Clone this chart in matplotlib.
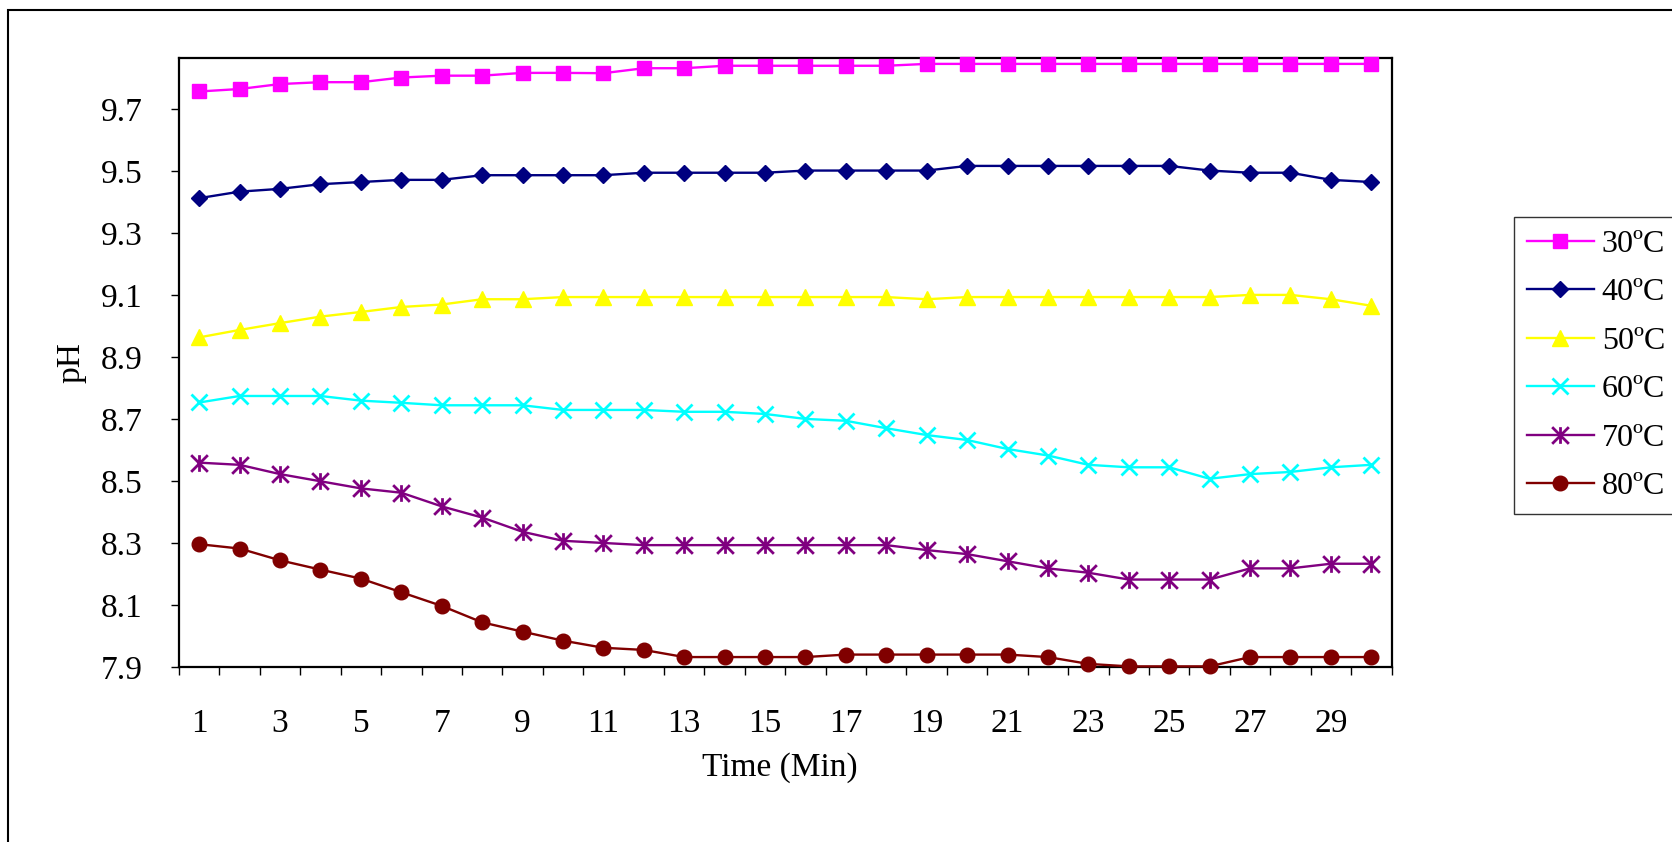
import matplotlib
matplotlib.use("Agg")
import matplotlib.pyplot as plt
from matplotlib.path import Path
from matplotlib.patches import Rectangle

plt.rcParams['font.family'] = ['Liberation Serif', 'DejaVu Serif']

# Time axis (minutes) and pH readings at each temperature
time_min = list(range(1, 31))

ph_30 = [9.757, 9.765, 9.781, 9.787, 9.787, 9.802, 9.808, 9.808, 9.817, 9.817,
         9.816, 9.832, 9.832, 9.840, 9.840, 9.840, 9.840, 9.840, 9.846, 9.846,
         9.846, 9.846, 9.846, 9.846, 9.846, 9.846, 9.846, 9.846, 9.846, 9.846]
ph_40 = [9.413, 9.434, 9.443, 9.458, 9.465, 9.472, 9.472, 9.487, 9.487, 9.487,
         9.487, 9.495, 9.495, 9.495, 9.495, 9.502, 9.502, 9.502, 9.502, 9.517,
         9.517, 9.517, 9.517, 9.517, 9.517, 9.502, 9.495, 9.495, 9.472, 9.465]
ph_50 = [8.964, 8.988, 9.010, 9.031, 9.046, 9.062, 9.070, 9.087, 9.087, 9.094,
         9.094, 9.094, 9.094, 9.094, 9.094, 9.094, 9.094, 9.094, 9.087, 9.094,
         9.094, 9.094, 9.094, 9.094, 9.094, 9.094, 9.101, 9.101, 9.087, 9.066]
ph_60 = [8.754, 8.775, 8.775, 8.775, 8.760, 8.753, 8.745, 8.745, 8.745, 8.730,
         8.730, 8.730, 8.724, 8.724, 8.717, 8.701, 8.695, 8.671, 8.649, 8.633,
         8.604, 8.583, 8.553, 8.545, 8.545, 8.508, 8.523, 8.530, 8.545, 8.553]
ph_70 = [8.560, 8.553, 8.523, 8.500, 8.477, 8.463, 8.419, 8.383, 8.337, 8.308,
         8.301, 8.294, 8.294, 8.294, 8.294, 8.294, 8.294, 8.294, 8.278, 8.265,
         8.242, 8.219, 8.205, 8.183, 8.183, 8.183, 8.219, 8.219, 8.234, 8.234]
ph_80 = [8.297, 8.283, 8.245, 8.215, 8.186, 8.142, 8.098, 8.045, 8.015, 7.986,
         7.963, 7.956, 7.933, 7.933, 7.933, 7.933, 7.941, 7.941, 7.941, 7.941,
         7.941, 7.933, 7.911, 7.903, 7.903, 7.903, 7.933, 7.933, 7.933, 7.933]

series_labels = ['30ºC', '40ºC', '50ºC', '60ºC', '70ºC', '80ºC']
y_ticks = [7.9, 8.1, 8.3, 8.5, 8.7, 8.9, 9.1, 9.3, 9.5, 9.7]
x_labels = ['1', '3', '5', '7', '9', '11', '13', '15', '17', '19', '21', '23', '25', '27', '29']

# Asterisk marker: a vertical bar crossed by an X
star_path = Path(
    [(0, -0.5), (0, 0.5), (-0.5, -0.5), (0.5, 0.5), (-0.5, 0.5), (0.5, -0.5)],
    [Path.MOVETO, Path.LINETO, Path.MOVETO, Path.LINETO, Path.MOVETO, Path.LINETO],
)

styles = [
    dict(color='#FF00FF', marker='s', ms=10.5),
    dict(color='#000080', marker='D', ms=8.6),
    dict(color='#FFFF00', marker='^', ms=12),
    dict(color='#00FFFF', marker='x', ms=12, mew=2),
    dict(color='#800080', marker=star_path, ms=12, mew=2),
    dict(color='#800000', marker='o', ms=10.5),
]

W, H = 1672, 842
fig = plt.figure(figsize=(W / 100, H / 100), dpi=100)

# Chart-area border
fig.patches.append(Rectangle((8 / W, -1), 2, 1 - 10 / H + 1, transform=fig.transFigure,
                             fill=False, edgecolor='black', linewidth=1.5))

ax_l, ax_r, ax_t, ax_b = 179, 1391.5, 58, 667.3
ax = fig.add_axes([ax_l / W, 1 - ax_b / H, (ax_r - ax_l) / W, (ax_b - ax_t) / H])

all_series = [ph_30, ph_40, ph_50, ph_60, ph_70, ph_80]
for vals, lab, st in zip(all_series, series_labels, styles):
    ax.plot(time_min, vals, color=st['color'], linewidth=1.7, marker=st['marker'],
            markersize=st['ms'], markerfacecolor=st['color'], markeredgecolor=st['color'],
            markeredgewidth=st.get('mew', 1.0), label=lab, clip_on=False, zorder=3)

ax.set_xlim(0.5, 30.5)
ax.set_ylim(7.9, 9.865)

# Category axis: tick marks between categories, labels on every other category
ax.set_xticks([i + 0.5 for i in range(0, 31)])
ax.set_xticklabels([])
ax.set_xticks([int(s) for s in x_labels], minor=True)
ax.set_xticklabels(x_labels, minor=True)
ax.tick_params(axis='x', which='major', direction='out', length=6, width=1, color='black')
ax.tick_params(axis='x', which='minor', length=0, pad=30, labelsize=24)

ax.set_yticks(y_ticks)
ax.set_yticklabels([f'{v:.1f}' for v in y_ticks])
ax.tick_params(axis='y', direction='out', length=6, width=1, color='black', pad=20, labelsize=24)

for sp in ax.spines.values():
    sp.set_linewidth(1.6)
    sp.set_color('black')

ax.set_xlabel('Time (Min)', fontsize=24)
ax.xaxis.set_label_coords((780 - ax_l) / (ax_r - ax_l), (ax_b - 768) / (ax_b - ax_t))
ax.xaxis.label.set_va('center')
ax.set_ylabel('pH', fontsize=24)
ax.yaxis.set_label_coords((71.5 - ax_l) / (ax_r - ax_l), 0.5)
ax.yaxis.label.set_va('center')

leg = fig.legend(loc='upper left', bbox_to_anchor=(1514 / W, 1 - 216.7 / H),
                 fontsize=23, frameon=True, fancybox=False, edgecolor='black',
                 borderpad=0.4, labelspacing=0.6, handlelength=2.1,
                 handletextpad=0.25, borderaxespad=0, numpoints=1)
leg.get_frame().set_linewidth(1.0)

fig.savefig('out.png', dpi=100)
